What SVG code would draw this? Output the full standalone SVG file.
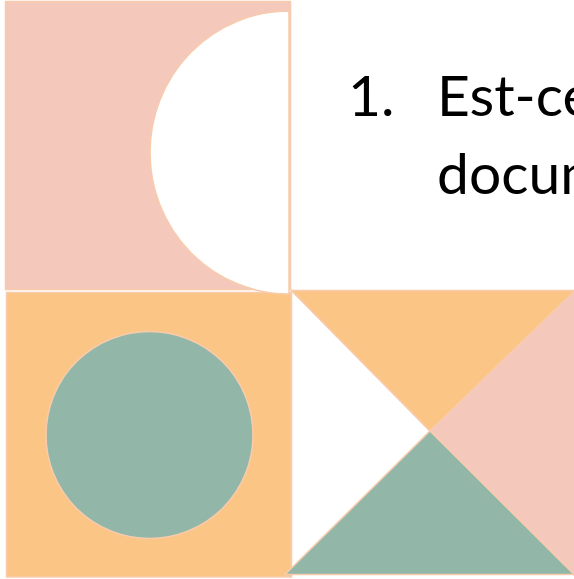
<svg xmlns="http://www.w3.org/2000/svg" width="574" height="579" viewBox="0 0 574 579">
<style>
.s{stroke:#F8CBAD;stroke-width:1.5;stroke-linejoin:miter}
.pink{fill:#F4C9BC}
.orange{fill:#FBC586}
.green{fill:#92B7A8}
.white{fill:#FFFFFF}
.t{font-family:Lato,"Liberation Sans",sans-serif;font-size:57px;fill:#000000}
</style>
<rect width="574" height="579" fill="#FFFFFF"/>
<g id="orange-square">
<rect class="s orange" x="6.5" y="292.5" width="285" height="284.5"/>
<circle class="s green" cx="149.5" cy="435" r="103.5"/>
</g>
<g id="pink-square">
<rect class="s pink" x="5.5" y="1.5" width="285" height="288"/>
<path class="s white" d="M289,11 A139,141.5 0 0 0 289,294 Z"/>
</g>
<g id="triangle-square">
<polygon class="s white" points="291.5,290.5 291.5,574.5 430,431"/>
<polygon class="s orange" points="291.5,290.5 575,290.5 430,431"/>
<polygon class="s pink" points="575,290.5 575,576 430,431"/>
<polygon class="s green" points="285,574.5 574,574.5 430,431"/>
</g>
<g id="title">
<text class="t" x="348" y="116">1.</text>
<text class="t" x="437" y="116">Est-ce</text>
<text class="t" x="437" y="193.5">docum</text>
</g>
</svg>
